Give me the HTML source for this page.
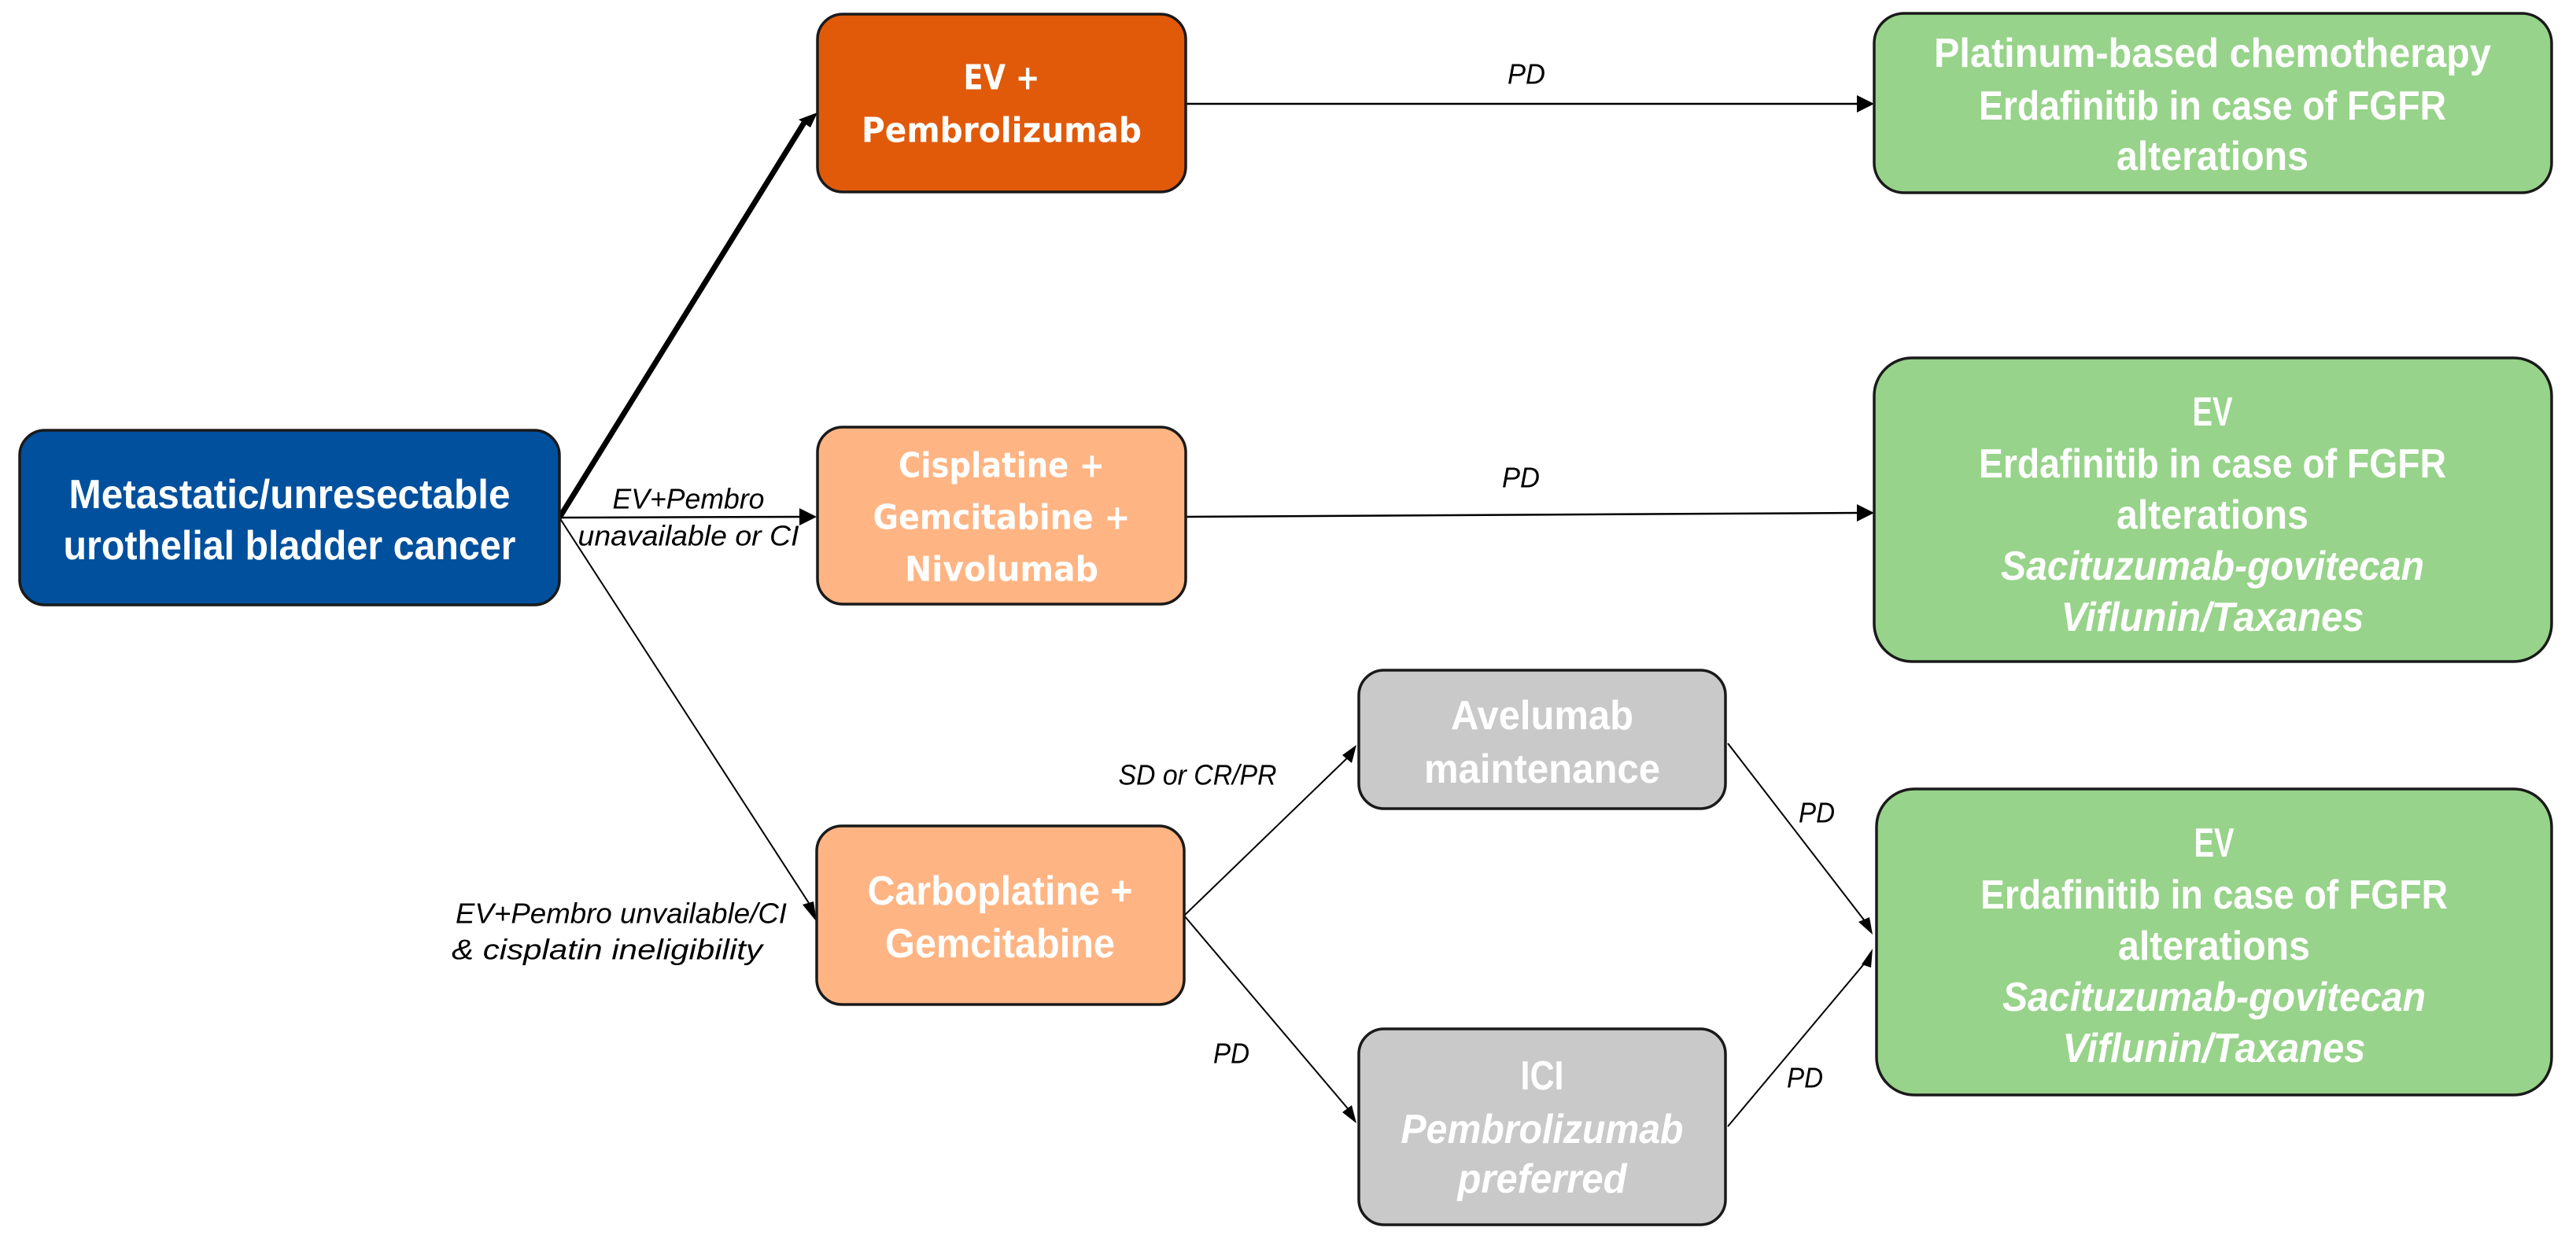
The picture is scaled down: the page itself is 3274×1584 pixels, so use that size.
<!DOCTYPE html>
<html><head><meta charset="utf-8"><style>
html,body{margin:0;padding:0;background:#fff;}
svg{display:block;}
.c{font-family:"Liberation Sans Narrow","Liberation Sans",sans-serif;font-weight:bold;fill:#fff;font-size:52px;}
.d{font-family:"DejaVu Sans",sans-serif;font-weight:bold;fill:#fff;font-size:44px;}
.l{font-family:"Liberation Sans Narrow","Liberation Sans",sans-serif;font-style:italic;fill:#000;font-size:36px;}
.i{font-style:italic;}
</style></head><body>
<svg width="3274" height="1584" viewBox="0 0 3274 1584" xmlns="http://www.w3.org/2000/svg">
<defs>
<marker id="a" markerWidth="10" markerHeight="8" refX="9" refY="4" orient="auto" markerUnits="userSpaceOnUse" viewBox="0 0 10 8">
<path d="M0,0 L10,4 L0,8 z" fill="#000"/></marker>
</defs>
<g stroke="#000" fill="none">
<!-- thin lines with arrowheads -->
<line x1="711" y1="658" x2="1018" y2="657" stroke-width="2.5"/>
<path d="M1016,646 L1038,657 L1016,668 z" fill="#000" stroke="none"/>
<line x1="711" y1="658" x2="1028" y2="1148" stroke-width="2"/>
<line x1="1507" y1="132" x2="2362" y2="132" stroke-width="2.5"/>
<path d="M2360,121 L2382,132 L2360,143 z" fill="#000" stroke="none"/>
<line x1="1505" y1="657" x2="2362" y2="652" stroke-width="2.5"/>
<path d="M2360,641 L2382,652 L2360,663 z" fill="#000" stroke="none"/>
<line x1="1505" y1="1164" x2="1716" y2="960" stroke-width="2"/>
<line x1="1505" y1="1164" x2="1717" y2="1414" stroke-width="2"/>
<line x1="2196" y1="945" x2="2371" y2="1172" stroke-width="2"/>
<line x1="2196" y1="1432" x2="2372" y2="1222" stroke-width="2"/>
<!-- thick -->
<line x1="711" y1="658" x2="1022" y2="156" stroke-width="7"/>
</g>
<g fill="#000">
<path d="M1039,143 L1015,152 L1030,162 z"/>
<path d="M1038,1172 L1020,1150 L1034,1146 z"/>
<path d="M1724,947 L1706,960 L1718,970 z"/>
<path d="M1724,1428 L1706,1414 L1718,1405 z"/>
<path d="M2380,1188 L2362,1172 L2376,1166 z"/>
<path d="M2380,1206 L2366,1226 L2378,1230 z"/>
</g>
<!-- boxes -->
<g stroke="#1a1a1a" stroke-width="3.5">
<rect x="25" y="547" width="686" height="222" rx="32" fill="#00509D"/>
<rect x="1039" y="18" width="468" height="226" rx="32" fill="#E05A0A"/>
<rect x="1039" y="543" width="468" height="225" rx="32" fill="#FFB483"/>
<rect x="1038" y="1050" width="467" height="227" rx="32" fill="#FFB483"/>
<rect x="1727" y="852" width="466" height="176" rx="32" fill="#C9C9C9"/>
<rect x="1727" y="1308" width="466" height="249" rx="32" fill="#C9C9C9"/>
<rect x="2382" y="17" width="861" height="228" rx="38" fill="#97D38A"/>
<rect x="2382" y="455" width="861" height="386" rx="48" fill="#97D38A"/>
<rect x="2385" y="1003" width="858" height="389" rx="48" fill="#97D38A"/>
</g>
<g text-anchor="middle" dominant-baseline="central">
<text class="c" x="368" y="629" textLength="561" lengthAdjust="spacingAndGlyphs">Metastatic/unresectable</text>
<text class="c" x="368" y="694" textLength="575" lengthAdjust="spacingAndGlyphs">urothelial bladder cancer</text>

<text class="d" x="1273" y="99" textLength="97" lengthAdjust="spacingAndGlyphs">EV +</text>
<text class="d" x="1273" y="166" textLength="356" lengthAdjust="spacingAndGlyphs">Pembrolizumab</text>

<text class="d" x="1273" y="592" textLength="262" lengthAdjust="spacingAndGlyphs">Cisplatine +</text>
<text class="d" x="1273" y="658" textLength="327" lengthAdjust="spacingAndGlyphs">Gemcitabine +</text>
<text class="d" x="1273" y="724" textLength="246" lengthAdjust="spacingAndGlyphs">Nivolumab</text>

<text class="c" x="1271" y="1133" textLength="337" lengthAdjust="spacingAndGlyphs">Carboplatine +</text>
<text class="c" x="1271" y="1200" textLength="292" lengthAdjust="spacingAndGlyphs">Gemcitabine</text>

<text class="c" x="1960" y="910" textLength="232" lengthAdjust="spacingAndGlyphs">Avelumab</text>
<text class="c" x="1960" y="978" textLength="300" lengthAdjust="spacingAndGlyphs">maintenance</text>

<text class="c" x="1960" y="1368" textLength="55" lengthAdjust="spacingAndGlyphs">ICI</text>
<text class="c i" x="1960" y="1436" textLength="359" lengthAdjust="spacingAndGlyphs">Pembrolizumab</text>
<text class="c i" x="1960" y="1499" textLength="215" lengthAdjust="spacingAndGlyphs">preferred</text>

<text class="c" x="2812" y="68" textLength="708" lengthAdjust="spacingAndGlyphs">Platinum-based chemotherapy</text>
<text class="c" x="2812" y="135" textLength="594" lengthAdjust="spacingAndGlyphs">Erdafinitib in case of FGFR</text>
<text class="c" x="2812" y="199" textLength="244" lengthAdjust="spacingAndGlyphs">alterations</text>

<text class="c" x="2812" y="524" textLength="51" lengthAdjust="spacingAndGlyphs">EV</text>
<text class="c" x="2812" y="590" textLength="594" lengthAdjust="spacingAndGlyphs">Erdafinitib in case of FGFR</text>
<text class="c" x="2812" y="655" textLength="244" lengthAdjust="spacingAndGlyphs">alterations</text>
<text class="c i" x="2812" y="720" textLength="538" lengthAdjust="spacingAndGlyphs">Sacituzumab-govitecan</text>
<text class="c i" x="2812" y="785" textLength="385" lengthAdjust="spacingAndGlyphs">Viflunin/Taxanes</text>

<text class="c" x="2814" y="1072" textLength="51" lengthAdjust="spacingAndGlyphs">EV</text>
<text class="c" x="2814" y="1138" textLength="594" lengthAdjust="spacingAndGlyphs">Erdafinitib in case of FGFR</text>
<text class="c" x="2814" y="1203" textLength="244" lengthAdjust="spacingAndGlyphs">alterations</text>
<text class="c i" x="2814" y="1268" textLength="538" lengthAdjust="spacingAndGlyphs">Sacituzumab-govitecan</text>
<text class="c i" x="2814" y="1333" textLength="385" lengthAdjust="spacingAndGlyphs">Viflunin/Taxanes</text>

<text class="l" x="1940" y="94" textLength="48" lengthAdjust="spacingAndGlyphs">PD</text>
<text class="l" x="1933" y="607" textLength="48" lengthAdjust="spacingAndGlyphs">PD</text>
<text class="l" x="875" y="634" textLength="193" lengthAdjust="spacingAndGlyphs">EV+Pembro</text>
<text class="l" x="875" y="681" textLength="281" lengthAdjust="spacingAndGlyphs">unavailable or CI</text>
<text class="l" x="1522" y="985" textLength="201" lengthAdjust="spacingAndGlyphs">SD or CR/PR</text>
<text class="l" x="1565" y="1339" textLength="46" lengthAdjust="spacingAndGlyphs">PD</text>
<text class="l" x="2309" y="1033" textLength="46" lengthAdjust="spacingAndGlyphs">PD</text>
<text class="l" x="2294" y="1370" textLength="46" lengthAdjust="spacingAndGlyphs">PD</text>
</g>
<g text-anchor="end" dominant-baseline="central">
<text class="l" x="1000" y="1161" textLength="421" lengthAdjust="spacingAndGlyphs">EV+Pembro unvailable/CI</text>
<text class="l" x="969" y="1207" textLength="395" lengthAdjust="spacingAndGlyphs">&amp; cisplatin ineligibility</text>
</g>
</svg>
</body></html>
